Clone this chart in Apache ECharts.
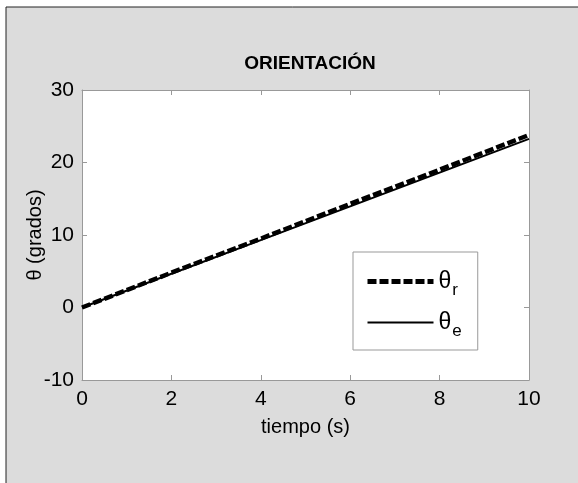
<!DOCTYPE html>
<html>
<head>
<meta charset="utf-8">
<script src="https://cdn.jsdelivr.net/npm/echarts@6/dist/echarts.min.js"></script>
<style>
  html, body { margin: 0; padding: 0; background: #fff; }
  #chart { width: 578px; height: 483px; }
</style>
</head>
<body>
<div id="chart"></div>
<script>
const tiempo = [0, 2, 4, 6, 8, 10]
const thetaR = [0, 4.8, 9.5, 14.3, 19.0, 23.8]
const thetaE = [0, 4.65, 9.3, 13.95, 18.6, 23.25]
const xTicks = [0, 2, 4, 6, 8, 10]
const yTicks = [-10, 0, 10, 20, 30]

const font = "'Liberation Sans', Arial, sans-serif"
const axisGray = '#999'

const chart = echarts.init(document.getElementById('chart'))

function axisCommon(extra) {
  return Object.assign({
    type: 'value',
    axisLine: { show: true, onZero: false, lineStyle: { color: axisGray, width: 1 } },
    axisTick: { show: true, inside: true, length: 5, lineStyle: { color: axisGray } },
    splitLine: { show: false }
  }, extra)
}

const option = {
  backgroundColor: '#fff',
  animation: false,
  graphic: [{
    type: 'rect',
    z: -10,
    shape: { x: 6, y: 7, width: 600, height: 500 },
    style: { fill: '#dcdcdc', stroke: '#222', lineWidth: 1 }
  }],
  title: {
    text: 'ORIENTACIÓN',
    left: 305,
    top: 49,
    textAlign: 'center',
    textStyle: { fontFamily: font, fontWeight: 'bold', fontSize: 19, color: '#000' }
  },
  legend: {
    orient: 'vertical',
    left: 353,
    top: 252,
    padding: [18, 16, 10, 12],
    itemWidth: 66,
    itemHeight: 14,
    itemGap: 12,
    backgroundColor: '#fff',
    borderColor: axisGray,
    borderWidth: 1,
    itemStyle: { color: 'rgba(0,0,0,0)', borderWidth: 0, opacity: 0 },
    data: [
      { name: 'r', lineStyle: { width: 5, type: [9, 3], color: '#000' } },
      { name: 'e', lineStyle: { width: 2, color: '#000' } }
    ],
    formatter: name => '{t|θ}{s|' + name + '}',
    textStyle: {
      color: '#000',
      fontFamily: font,
      rich: {
        t: { fontSize: 23, fontFamily: font, color: '#000', lineHeight: 28 },
        s: { fontSize: 17, fontFamily: font, color: '#000', padding: [18, 0, 0, 1] }
      }
    }
  },
  grid: { left: 82, top: 90, right: 49, bottom: 103, show: true, backgroundColor: '#fff', borderWidth: 0 },
  xAxis: [
    axisCommon({
      min: xTicks[0], max: xTicks[xTicks.length - 1], interval: 2,
      name: 'tiempo (s)', nameLocation: 'middle', nameGap: 37, nameMoveOverlap: false,
      nameTextStyle: { fontFamily: font, fontSize: 20, color: '#000' },
      axisLabel: { fontFamily: font, fontSize: 21, color: '#000', margin: 9 }
    }),
    axisCommon({
      position: 'top', min: xTicks[0], max: xTicks[xTicks.length - 1], interval: 2,
      axisLabel: { show: false }
    })
  ],
  yAxis: [
    axisCommon({
      min: yTicks[0], max: yTicks[yTicks.length - 1], interval: 10,
      name: 'θ (grados)', nameLocation: 'middle', nameGap: 37, nameMoveOverlap: false,
      nameTextStyle: { fontFamily: font, fontSize: 20, color: '#000' },
      axisLabel: { fontFamily: font, fontSize: 21, color: '#000', margin: 8 }
    }),
    axisCommon({
      position: 'right', min: yTicks[0], max: yTicks[yTicks.length - 1], interval: 10,
      axisLabel: { show: false }
    })
  ],
  series: [
    {
      name: 'e',
      type: 'line',
      data: tiempo.map((t, i) => [t, thetaE[i]]),
      symbol: 'none',
      itemStyle: { color: '#000' },
      lineStyle: { color: '#000', width: 2 },
      z: 2
    },
    {
      name: 'r',
      type: 'line',
      data: tiempo.map((t, i) => [t, thetaR[i]]),
      symbol: 'none',
      itemStyle: { color: '#000' },
      lineStyle: { color: '#000', width: 4.5, type: [9, 3] },
      z: 3
    }
  ]
}

chart.setOption(option)
</script>
</body>
</html>
